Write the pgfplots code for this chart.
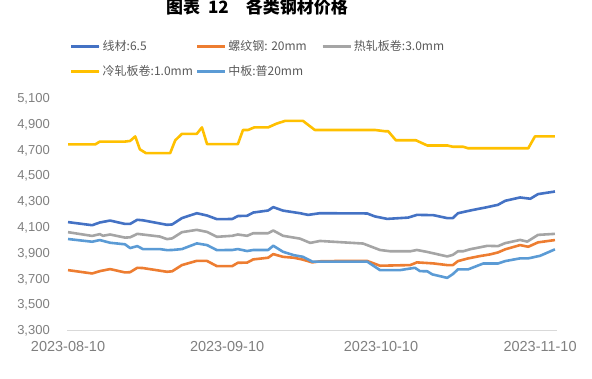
\documentclass[border=0pt]{standalone}
\usepackage{pgfplots}
\pgfplotsset{compat=1.18}
\usepackage{fontspec}
\setmainfont{Liberation Sans}
\newfontfamily\cjk{Noto Sans CJK SC}
\definecolor{cA}{HTML}{4472C4}
\definecolor{cB}{HTML}{ED7D31}
\definecolor{cC}{HTML}{A5A5A5}
\definecolor{cD}{HTML}{FFC000}
\definecolor{cE}{HTML}{5B9BD5}
\definecolor{tickc}{HTML}{7F7F7F}
\definecolor{legc}{HTML}{595959}
\definecolor{axc}{HTML}{D9D9D9}
\begin{document}
\begin{tikzpicture}
\path[use as bounding box] (0,0) rectangle (592pt,378pt);
\node[font=\cjk\bfseries\fontsize{17}{20}\selectfont, text=black, inner sep=0pt] at (257pt,370.5pt) {图表\hspace{8pt}12\hspace{17pt}各类钢材价格};
\begin{axis}[
  at={(67pt,48pt)}, anchor=south west,
  scale only axis, width=490pt, height=232.3pt,
  xmin=-0.2, xmax=95.3, ymin=3300, ymax=5100,
  axis x line*=bottom, axis y line*=left,
  x axis line style={draw=axc, line width=1pt},
  y axis line style={draw=none},
  major tick length=0pt,
  xtick={0,31,61,92},
  xticklabels={2023-08-10,2023-09-10,2023-10-10,2023-11-10},
  ytick={3300,3500,...,5100},
  /pgf/number format/assume math mode=true,
  /pgf/number format/1000 sep={,},
  ticklabel style={text=tickc},
  xticklabel style={font=\fontsize{14.5}{16}\selectfont, anchor=center, inner sep=0pt, yshift=-16.5pt},
  yticklabel style={font=\fontsize{13}{15}\selectfont, anchor=base east, inner sep=0pt, xshift=-17pt, yshift=-4.7pt},
  legend columns=3,
  legend cell align=left,
  legend style={at={(0.006,1.247)}, anchor=north west, draw=none, fill=none,
    font=\cjk\fontsize{12}{14}\selectfont, text=legc,
    column sep=0pt, row sep=13.5pt, inner sep=0pt, nodes={inner sep=0pt}},
  legend image code/.code={\path (0pt,0pt) -- (28pt,0pt); \draw[#1, line cap=round] (1.5pt,0pt) -- (26.5pt,0pt);},
  every axis plot/.append style={line width=2.6pt, line join=round, mark=none},
]
\addplot[cA] coordinates {
(0,4136) (4.7,4112) (6.2,4133) (8.2,4148) (11.1,4122) (12.1,4122) (13.5,4154) (14.6,4150)
(19.3,4115) (20.3,4118) (22.2,4167) (25.1,4205) (27.1,4187) (29.0,4159) (32.0,4160) (33.1,4183)
(34.9,4185) (36.1,4210) (39.0,4226) (40.0,4252) (41.9,4225) (45.2,4205) (46.8,4192) (49.1,4205)
(58.3,4203) (59.8,4180) (62.2,4161) (66.3,4171) (68.0,4192) (71.2,4190) (73.9,4167) (75.0,4167)
(76.0,4205) (78.4,4226) (81.7,4252) (83.8,4270) (85.2,4301) (88.1,4327) (90.1,4317) (91.6,4353) (94.9,4373)
};
\addlegendentry{\makebox[95pt][l]{\hspace{2pt}线材:6.5}}
\addplot[cB] coordinates {
(0,3764) (4.7,3738) (6.2,3756) (8.2,3772) (11.1,3746) (12.1,3748) (13.5,3782) (14.6,3780)
(19.3,3751) (20.3,3755) (22.2,3803) (25.1,3836) (27.1,3835) (29.0,3795) (32.0,3795) (33.1,3821)
(34.9,3822) (36.1,3847) (39.0,3860) (40.0,3888) (41.9,3867) (44.0,3860) (45.6,3847) (47.6,3824)
(49.5,3834) (58.3,3835) (60.8,3798) (66.7,3803) (68.0,3824) (71.2,3816) (73.9,3803) (75.0,3803)
(76.0,3834) (78.0,3855) (80.3,3873) (82.3,3886) (83.8,3901) (85.2,3925) (88.1,3958) (89.7,3945)
(91.6,3979) (94.9,3997)
};
\addlegendentry{\makebox[95pt][l]{\hspace{2pt}螺纹钢: 20mm}}
\addplot[cC] coordinates {
(0,4058) (4.7,4029) (6.2,4043) (6.8,4030) (8.2,4040) (11.1,4016) (12.1,4018) (13.5,4045)
(17.9,4024) (19.3,4004) (20.3,4010) (22.2,4058) (25.1,4076) (27.1,4060) (29.0,4022) (32.0,4030)
(33.1,4040) (34.9,4030) (36.1,4050) (39.0,4050) (40.0,4071) (41.9,4030) (45.2,4008) (47.2,3975)
(49.1,3990) (57.5,3970) (60.8,3920) (62.8,3910) (66.7,3910) (68.0,3920) (70.0,3905) (73.9,3870)
(75.0,3882) (76.0,3910) (77.0,3910) (78.4,3926) (81.7,3952) (83.8,3950) (85.2,3973) (88.1,3998)
(89.5,3985) (91.6,4037) (94.9,4045)
};
\addlegendentry{\makebox[95pt][l]{\hspace{2pt}热轧板卷:3.0mm}}
\addplot[cD] coordinates {
(0,4738) (5.3,4738) (6.2,4760) (11.1,4760) (12.1,4765) (13.1,4800) (14.0,4700) (15.2,4670)
(19.9,4670) (20.9,4770) (22.2,4820) (25.1,4820) (26.1,4870) (27.1,4740) (33.1,4740) (34.1,4850)
(35.1,4850) (36.3,4870) (39.0,4870) (40.7,4900) (42.3,4920) (45.8,4920) (48.1,4850) (59.8,4850)
(61.8,4840) (62.4,4840) (63.9,4770) (67.8,4770) (70.0,4730) (73.9,4730) (75.0,4720) (77.0,4720)
(78.0,4708) (89.7,4708) (91.0,4800) (94.9,4800)
};
\addlegendentry{\makebox[95pt][l]{\hspace{2pt}冷轧板卷:1.0mm}}
\addplot[cE] coordinates {
(0,4005) (4.7,3984) (6.2,3997) (8.2,3976) (11.1,3964) (12.1,3935) (13.5,3950) (14.6,3927)
(17.9,3927) (19.3,3919) (20.3,3920) (22.2,3927) (25.1,3971) (27.1,3958) (29.0,3919) (32.0,3920)
(33.1,3927) (34.9,3912) (36.1,3920) (39.0,3920) (40.0,3953) (41.9,3906) (44.0,3880) (45.8,3867)
(47.6,3830) (58.3,3830) (60.8,3764) (64.7,3764) (67.6,3782) (68.6,3756) (70.0,3755) (71.0,3731)
(73.9,3704) (75.0,3733) (76.0,3770) (78.0,3770) (80.9,3815) (83.8,3815) (85.2,3834) (88.1,3855)
(89.7,3855) (92.0,3875) (94.9,3925)
};
\addlegendentry{\makebox[95pt][l]{\hspace{2pt}中板:普20mm}}
\end{axis}
\end{tikzpicture}
\end{document}
